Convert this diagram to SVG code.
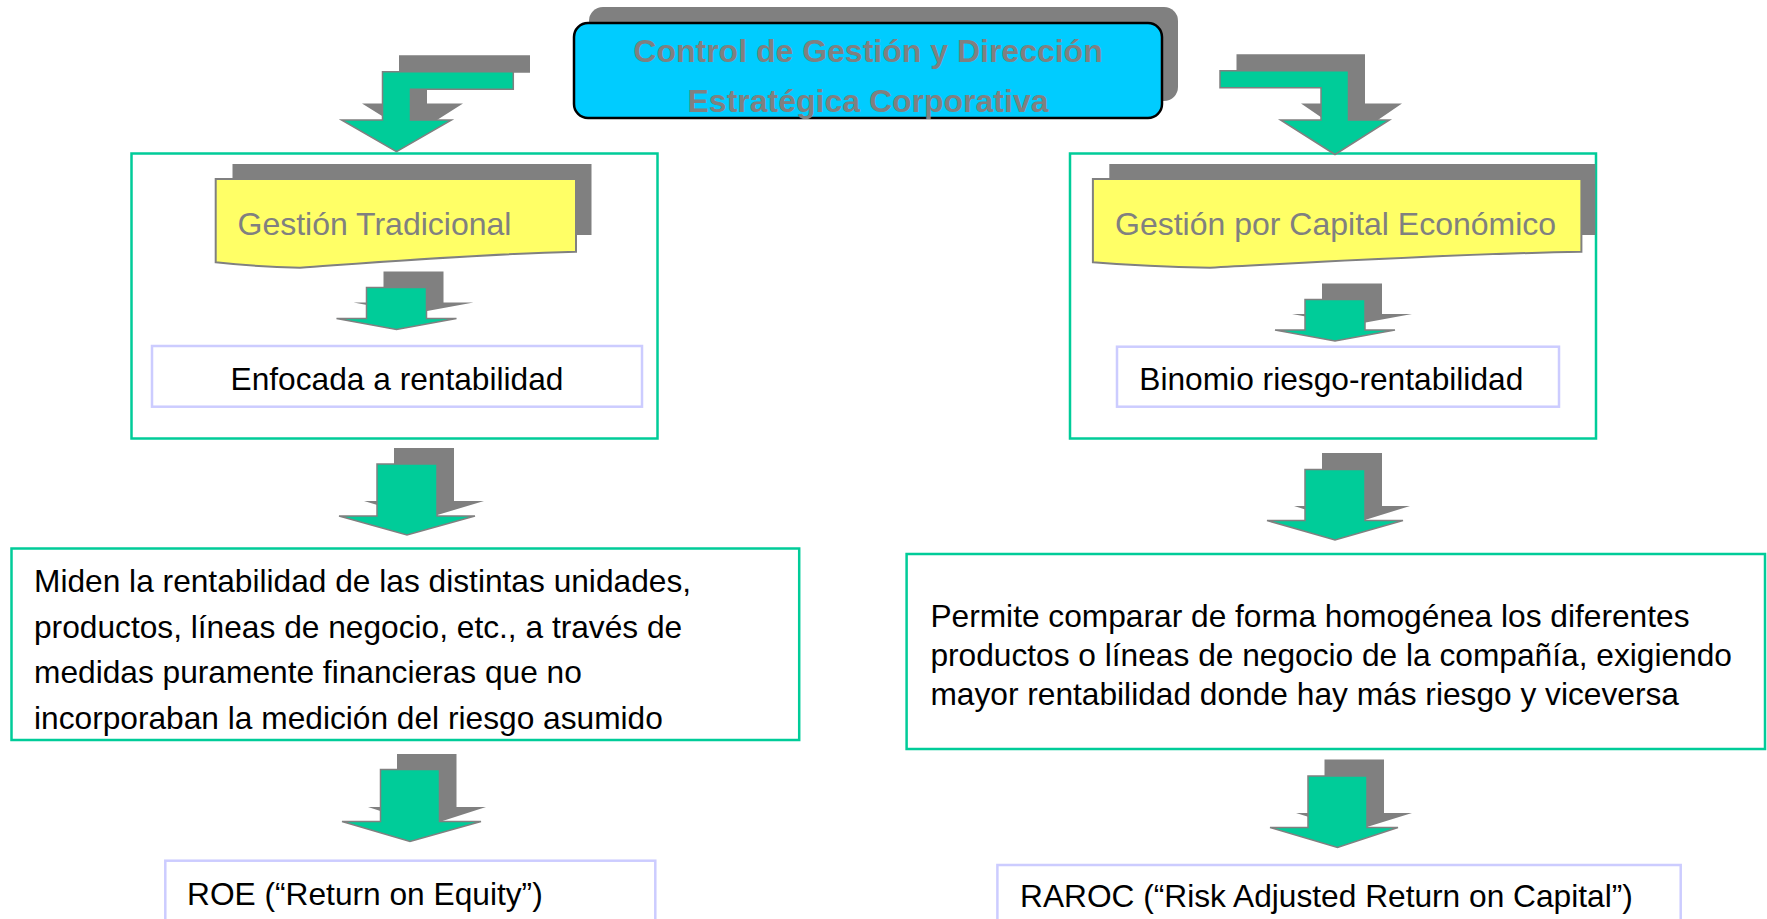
<svg xmlns="http://www.w3.org/2000/svg" width="1767" height="919" viewBox="0 0 1767 919">
<style>
.t{font-family:"Liberation Sans",Arial,sans-serif;font-size:31.7px;fill:#000}
.title{font-family:"Liberation Sans",Arial,sans-serif;font-size:32px;font-weight:bold;fill:#808080;text-anchor:middle}
.lbl{font-family:"Liberation Sans",Arial,sans-serif;font-size:32px;fill:#808080}
.gbox{fill:#fff;stroke:#00CC99;stroke-width:2.5}
.lbox{fill:#fff;stroke:#CCCCFF;stroke-width:2.5}
.shadow{fill:#808080}
.yel{fill:#FFFF66;stroke:#808080;stroke-width:2}
.arr{fill:#00CC99;stroke:#808080;stroke-width:1.5;stroke-linejoin:miter}
</style>
<rect width="1767" height="919" fill="#fff"/>

<g id="top">
<rect class="shadow" x="589" y="7" width="589" height="94" rx="14"/>
<rect x="574" y="23" width="588" height="95" rx="14" fill="#00CCFF" stroke="#000" stroke-width="2.5"/>
<text class="title" x="868" y="62">Control de Gestión y Dirección</text>
<text class="title" x="868" y="112">Estratégica Corporativa</text>
</g>

<g id="left-frame">
<rect class="gbox" x="131.5" y="153.5" width="526" height="285"/>
</g>
<g id="gestion-tradicional">
<rect class="shadow" x="232.5" y="164" width="359" height="71"/>
<path class="yel" d="M215.7,179 L576,179 L576,251.7 C480,254 380,262 300,267.7 C262,267 240,265 215.7,262.3 Z"/>
<text class="lbl" x="237.5" y="235">Gestión Tradicional</text>
</g>
<g id="enfocada">
<rect class="lbox" x="152" y="346" width="490" height="60.7"/>
<text class="t" x="230.5" y="390">Enfocada a rentabilidad</text>
</g>

<g id="right-frame">
<rect class="gbox" x="1070" y="153.5" width="526" height="285"/>
</g>
<g id="gestion-capital">
<rect class="shadow" x="1109.3" y="164" width="486" height="71"/>
<path class="yel" d="M1092.9,179 L1581.4,179 L1581.4,251.7 C1450,254 1320,262 1210,267.7 C1160,267 1125,265 1092.9,262.3 Z"/>
<text class="lbl" x="1115" y="235">Gestión por Capital Económico</text>
</g>
<g id="binomio">
<rect class="lbox" x="1117" y="346.7" width="442" height="60"/>
<text class="t" x="1139.3" y="390">Binomio riesgo-rentabilidad</text>
</g>

<g id="miden">
<rect class="gbox" x="11.5" y="548.5" width="787.7" height="191.5"/>
<text class="t" x="34" y="592">Miden la rentabilidad de las distintas unidades,</text>
<text class="t" x="34" y="637.5">productos, líneas de negocio, etc., a través de</text>
<text class="t" x="34" y="683">medidas puramente financieras que no</text>
<text class="t" x="34" y="728.5">incorporaban la medición del riesgo asumido</text>
</g>

<g id="permite">
<rect class="gbox" x="906.6" y="554" width="858.4" height="195"/>
<text class="t" x="930.4" y="627">Permite comparar de forma homogénea los diferentes</text>
<text class="t" x="930.4" y="666">productos o líneas de negocio de la compañía, exigiendo</text>
<text class="t" x="930.4" y="704.5">mayor rentabilidad donde hay más riesgo y viceversa</text>
</g>

<g id="roe">
<rect class="lbox" x="165.3" y="860.7" width="490" height="70"/>
<text class="t" x="187" y="905">ROE (“Return on Equity”)</text>
</g>

<g id="raroc">
<rect class="lbox" x="997.4" y="865" width="683.3" height="70"/>
<text class="t" x="1020" y="907">RAROC (“Risk Adjusted Return on Capital”)</text>
</g>

<g id="connectors">
<polygon class="shadow" points="399,55.2 530,55.2 530,72.8 427,72.8 427,103.5 463,103.5 413,135.2 362,103.5 399,103.5"/>
<polygon class="arr" points="382.5,71.7 513.3,71.7 513.3,89.3 410.5,89.3 410.5,120 451.5,120 396.5,151.7 341.5,120 382.5,120"/>
<polygon class="shadow" points="1236.5,54.2 1365,54.2 1365,103.5 1402,103.5 1351.5,138 1301,103.5 1337.5,103.5 1337.5,71.2 1236.5,71.2"/>
<polygon class="arr" points="1220,70.7 1348.5,70.7 1348.5,120 1389.5,120 1335,154.5 1280.5,120 1321,120 1321,87.7 1220,87.7"/>
<polygon class="shadow" points="383.5,271.5 443.5,271.5 443.5,302.5 473.5,302.5 413.5,313.5 353.5,302.5 383.5,302.5"/>
<polygon class="arr" points="366.5,287.5 426.5,287.5 426.5,318.5 456.5,318.5 396.5,329.5 336.5,318.5 366.5,318.5"/>
<polygon class="shadow" points="1322,283.5 1382,283.5 1382,314 1412,314 1352,325 1292,314 1322,314"/>
<polygon class="arr" points="1305,299.5 1365,299.5 1365,330 1395,330 1335,341 1275,330 1305,330"/>
<polygon class="shadow" points="394,448 454,448 454,501 484,501 424,519 364,501 394,501"/>
<polygon class="arr" points="377,464 437,464 437,516 475,516 407,535 339,516 377,516"/>
<polygon class="shadow" points="1322,453 1382,453 1382,506 1410,506 1352,524 1294,506 1322,506"/>
<polygon class="arr" points="1305,469.5 1365,469.5 1365,520.5 1403,520.5 1335,540 1267,520.5 1305,520.5"/>
<polygon class="shadow" points="397,754 456.5,754 456.5,807 486,807 427,826 368,807 397,807"/>
<polygon class="arr" points="380.5,769.5 439.5,769.5 439.5,821.5 481,821.5 410,841.5 342,821.5 380.5,821.5"/>
<polygon class="shadow" points="1324.5,759.5 1384,759.5 1384,813 1412,813 1354,831 1296,813 1324.5,813"/>
<polygon class="arr" points="1308,776 1367,776 1367,827.5 1398,827.5 1337.5,847.5 1270,827.5 1308,827.5"/>
</g>
</svg>
